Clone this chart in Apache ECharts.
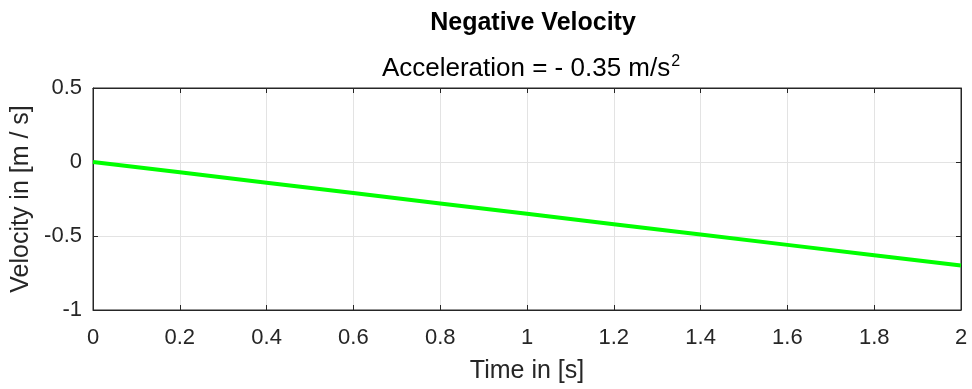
<!DOCTYPE html>
<html>
<head>
<meta charset="utf-8">
<script src="https://cdn.jsdelivr.net/npm/echarts@6/dist/echarts.min.js"></script>
<style>
html,body{margin:0;padding:0;background:#fff;}
#chart{width:972px;height:389px;}
</style>
</head>
<body>
<div id="chart"></div>
<script>
var timeValues = [0, 0.2, 0.4, 0.6, 0.8, 1.0, 1.2, 1.4, 1.6, 1.8, 2.0];
var velocityValues = [0, -0.07, -0.14, -0.21, -0.28, -0.35, -0.42, -0.49, -0.56, -0.63, -0.70];
var xTicks = [0, 0.2, 0.4, 0.6, 0.8, 1, 1.2, 1.4, 1.6, 1.8, 2];
var yTicks = [-1, -0.5, 0, 0.5];
var titleText = 'Negative Velocity';
var subtitleMain = 'Acceleration = - 0.35 m/s';
var subtitleSup = '2';
var xLabel = 'Time in [s]';
var yLabel = 'Velocity in [m / s]';

var FONT = '"Liberation Sans", Arial, Helvetica, sans-serif';
var AX = '#262626';
var chart = echarts.init(document.getElementById('chart'), null, {renderer: 'canvas'});
var data = timeValues.map(function (t, i) { return [t, velocityValues[i]]; });

var xa = {
  type: 'value', min: xTicks[0], max: xTicks[xTicks.length - 1], interval: 0.2,
  name: xLabel, nameLocation: 'middle', nameGap: 49,
  nameTextStyle: {color: AX, fontFamily: FONT, fontSize: 25},
  axisLine: {show: true, onZero: false, lineStyle: {color: AX, width: 1}},
  axisTick: {show: true, inside: true, length: 5, lineStyle: {color: AX}},
  splitLine: {show: true, lineStyle: {color: '#e3e3e3', width: 1}},
  axisLabel: {color: AX, fontFamily: FONT, fontSize: 22, margin: 17,
    formatter: function (v) { return String(Math.round(v * 10) / 10); }}
};
var ya = {
  type: 'value', min: yTicks[0], max: yTicks[yTicks.length - 1], interval: 0.5,
  name: yLabel, nameLocation: 'middle', nameGap: 56,
  nameTextStyle: {color: AX, fontFamily: FONT, fontSize: 25},
  axisLine: {show: true, onZero: false, lineStyle: {color: AX, width: 1}},
  axisTick: {show: true, inside: true, length: 5, lineStyle: {color: AX}},
  splitLine: {show: true, lineStyle: {color: '#e3e3e3', width: 1}},
  axisLabel: {color: AX, fontFamily: FONT, fontSize: 22, margin: 11}
};
var xTop = {type: 'value', position: 'top', min: xTicks[0], max: xTicks[xTicks.length - 1], interval: 0.2,
  axisLine: {show: true, onZero: false, lineStyle: {color: AX}},
  axisTick: {show: true, inside: true, length: 5, lineStyle: {color: AX}},
  axisLabel: {show: false}, splitLine: {show: false}};
var yRight = {type: 'value', position: 'right', min: yTicks[0], max: yTicks[yTicks.length - 1], interval: 0.5,
  axisLine: {show: true, onZero: false, lineStyle: {color: AX}},
  axisTick: {show: true, inside: true, length: 5, lineStyle: {color: AX}},
  axisLabel: {show: false}, splitLine: {show: false}};

chart.setOption({
  backgroundColor: '#ffffff',
  animation: false,
  title: [{
    text: titleText, left: 528, top: 6, textAlign: 'center',
    textStyle: {fontFamily: FONT, fontSize: 25, fontWeight: 'bold', color: '#000'}
  }, {
    text: '{m|' + subtitleMain + '}{s|' + subtitleSup + '}', left: 526, top: 49, textAlign: 'center',
    textStyle: {fontWeight: 'normal', rich: {
      m: {fontFamily: FONT, fontSize: 26, fontWeight: 'normal', color: '#000'},
      s: {fontFamily: FONT, fontSize: 16, fontWeight: 'normal', color: '#000', padding: [0, 0, 14, 1]}
    }}
  }],
  grid: {left: 93, right: 11, top: 88, bottom: 77, containLabel: false,
    show: true, borderColor: AX, borderWidth: 1, backgroundColor: 'transparent'},
  xAxis: [xa, xTop],
  yAxis: [ya, yRight],
  series: [{
    type: 'line', data: data, xAxisIndex: 0, yAxisIndex: 0,
    showSymbol: false, symbol: 'none',
    lineStyle: {color: '#00ff00', width: 4}
  }, {
    type: 'line', data: [], xAxisIndex: 1, yAxisIndex: 1, showSymbol: false
  }]
});
</script>
</body>
</html>
